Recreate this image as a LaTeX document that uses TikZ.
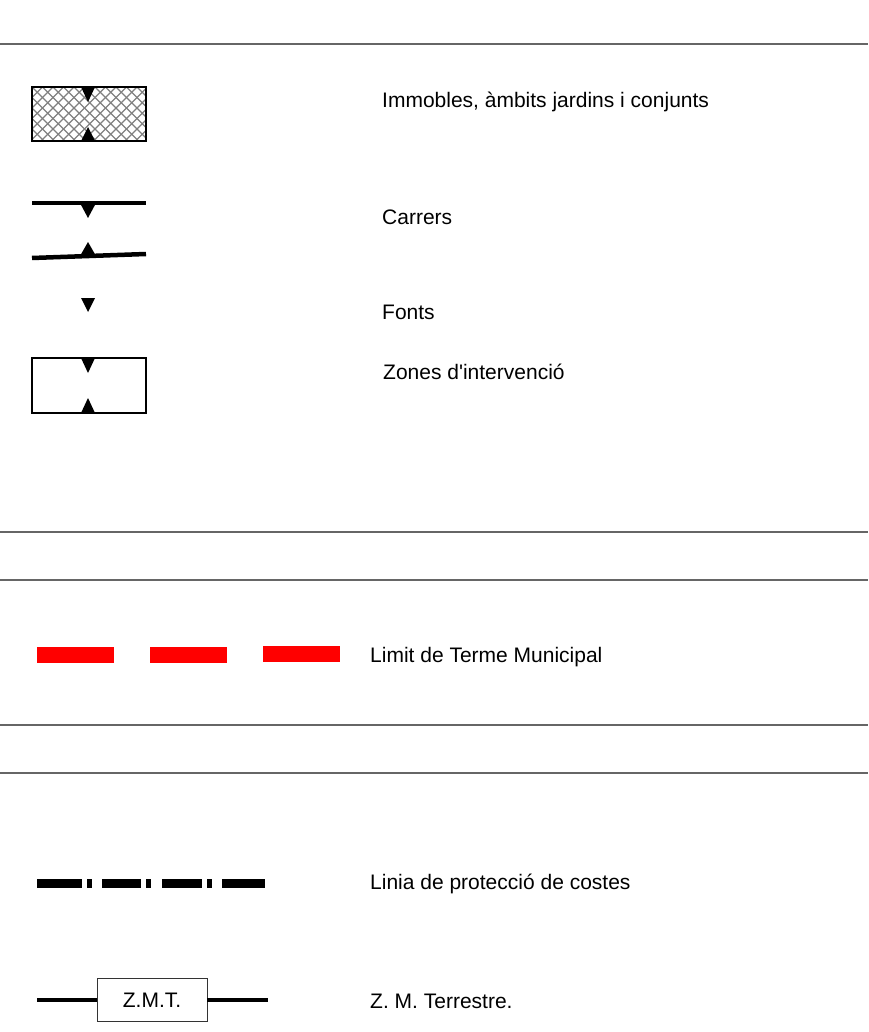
\documentclass[tikz,border=0pt]{standalone}
\usepackage{fontspec}
\setmainfont{Liberation Sans}
\begin{document}
\begin{tikzpicture}[x=1pt,y=-1pt,
  sep/.style={draw=black!60,line width=1.2pt},
  lbl/.style={anchor=base west,inner sep=0pt,font=\fontsize{21}{25}\selectfont},
  tri/.style={fill=black,draw=none},
  boxline/.style={draw=black,line width=2.8pt},
  road/.style={draw=black,line width=4.5pt},
  reddash/.style={fill=red,draw=none},
  coast/.style={fill=black,draw=none}]
\useasboundingbox (0,0) rectangle (868,1032);
% separators
\foreach \yy/\nm in {44/s1,532/s2,580/s3,725/s4,773/s5}{
  \coordinate (\nm a) at (0,\yy); \coordinate (\nm b) at (868,\yy);
  \draw[sep] (\nm a) -- (\nm b);}
% hatched box
\begin{scope}
  \clip (32,87) rectangle (146,141);
  \foreach \k in {-7,...,18}{
    \draw[black!50,line width=1.3pt] (32+\k*10.5,87) -- ++(54,54);
    \draw[black!50,line width=1.3pt] (32+\k*10.5,87) -- ++(-54,54);}
\end{scope}
\fill[tri] (81,87) -- (95,87) -- (88,102) -- cycle;
\fill[tri] (81,141) -- (95,141) -- (88,127) -- cycle;
\draw[boxline] (32,87) rectangle (146,141);
\node[lbl] (t1) at (382,108) {Immobles, àmbits jardins i conjunts};
% carrers
\coordinate (c1a) at (32,203); \coordinate (c1b) at (146,203);
\draw[road] (c1a) -- (c1b);
\fill[tri] (80,203) -- (96,203) -- (88,218) -- cycle;
\coordinate (c2a) at (32,258); \coordinate (c2b) at (146,254);
\draw[road] (c2a) -- (c2b);
\fill[tri] (80,256) -- (96,256) -- (88,242) -- cycle;
\node[lbl] (t2) at (382,225) {Carrers};
% fonts
\fill[tri] (81,298) -- (95,298) -- (88,312) -- cycle;
\node[lbl] (t3) at (382,319) {Fonts};
% zones
\fill[tri] (81,358) -- (95,358) -- (88,373) -- cycle;
\fill[tri] (81,413) -- (95,413) -- (88,398) -- cycle;
\draw[draw=black,line width=2.2pt] (32,358) rectangle (146,413);
\node[lbl] (t4) at (383,379) {Zones d\textquotesingle intervenció};
% red dashes
\fill[reddash] (37,647) rectangle (114,663);
\fill[reddash] (150,647) rectangle (227,663);
\fill[reddash] (263,646) rectangle (340,662);
\node[lbl] (t5) at (370,662) {Limit de Terme Municipal};
% coast line
\foreach \xa/\xb in {37/82,87/92,102/141,146/151,162/202,207/212,222/265}{
  \fill[coast] (\xa,879) rectangle (\xb,888);}
\node[lbl] (t6) at (370,889) {Linia de protecció de costes};
% ZMT
\node[draw=black!80,line width=0.8pt,minimum width=110pt,minimum height=43pt,inner sep=0pt,
  font=\fontsize{21}{25}\selectfont] (zmt) at (152,1000) {Z.M.T.};
\coordinate (za) at (37,1000); \coordinate (zb) at (268,1000);
\draw[road] (za) -- (zmt.west);
\draw[road] (zmt.east) -- (zb);
\node[lbl] (t7) at (370,1008) {Z. M. Terrestre.};
\end{tikzpicture}
\end{document}
